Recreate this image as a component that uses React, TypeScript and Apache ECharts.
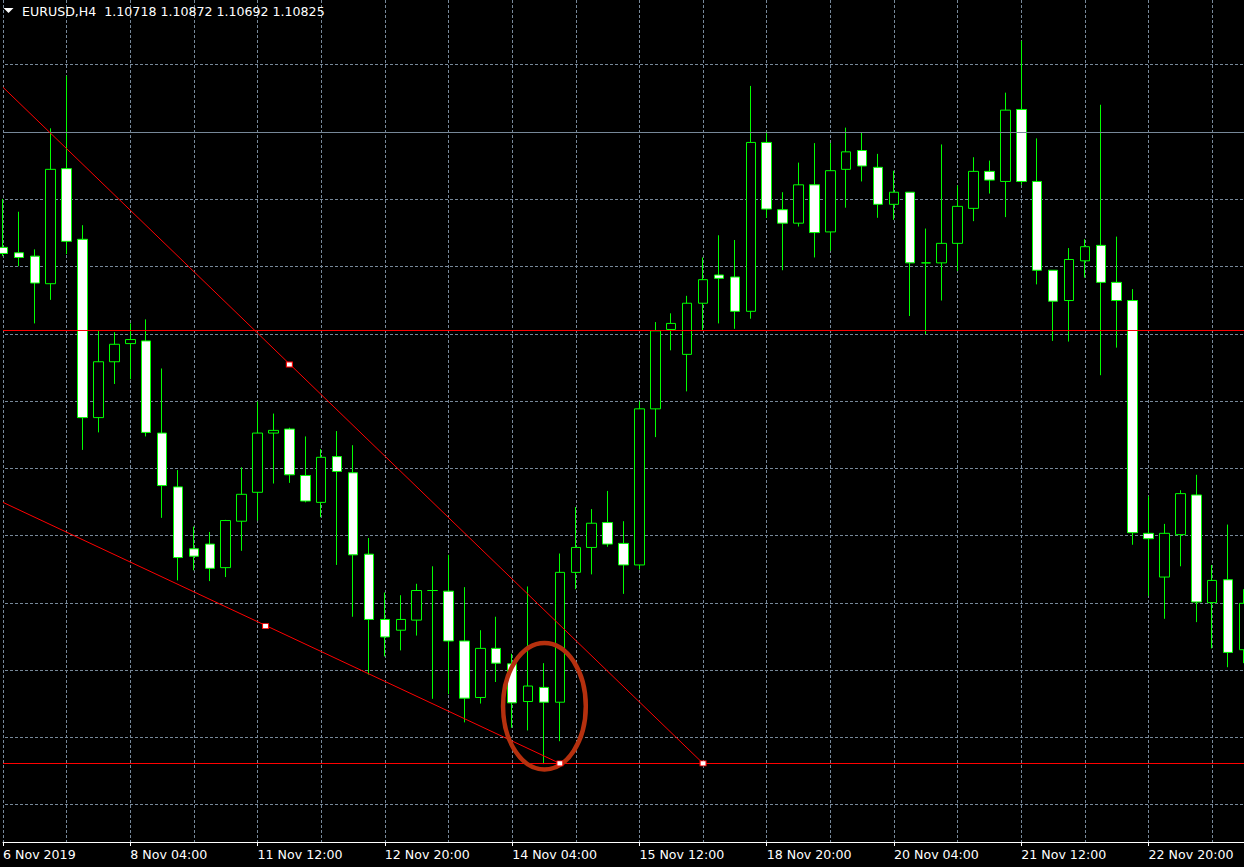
import React, { useEffect, useRef } from 'react';
import * as echarts from 'echarts';

// H4 bar times (x categories)
const categories = [
  '6 Nov 20:00',
  '7 Nov 00:00', '7 Nov 04:00', '7 Nov 08:00', '7 Nov 12:00', '7 Nov 16:00', '7 Nov 20:00',
  '8 Nov 00:00', '8 Nov 04:00', '8 Nov 08:00', '8 Nov 12:00', '8 Nov 16:00', '8 Nov 20:00',
  '11 Nov 00:00', '11 Nov 04:00', '11 Nov 08:00', '11 Nov 12:00', '11 Nov 16:00', '11 Nov 20:00',
  '12 Nov 00:00', '12 Nov 04:00', '12 Nov 08:00', '12 Nov 12:00', '12 Nov 16:00', '12 Nov 20:00',
  '13 Nov 00:00', '13 Nov 04:00', '13 Nov 08:00', '13 Nov 12:00', '13 Nov 16:00', '13 Nov 20:00',
  '14 Nov 00:00', '14 Nov 04:00', '14 Nov 08:00', '14 Nov 12:00', '14 Nov 16:00', '14 Nov 20:00',
  '15 Nov 00:00', '15 Nov 04:00', '15 Nov 08:00', '15 Nov 12:00', '15 Nov 16:00', '15 Nov 20:00',
  '18 Nov 00:00', '18 Nov 04:00', '18 Nov 08:00', '18 Nov 12:00', '18 Nov 16:00', '18 Nov 20:00',
  '19 Nov 00:00', '19 Nov 04:00', '19 Nov 08:00', '19 Nov 12:00', '19 Nov 16:00', '19 Nov 20:00',
  '20 Nov 00:00', '20 Nov 04:00', '20 Nov 08:00', '20 Nov 12:00', '20 Nov 16:00', '20 Nov 20:00',
  '21 Nov 00:00', '21 Nov 04:00', '21 Nov 08:00', '21 Nov 12:00', '21 Nov 16:00', '21 Nov 20:00',
  '22 Nov 00:00', '22 Nov 04:00', '22 Nov 08:00', '22 Nov 12:00', '22 Nov 16:00', '22 Nov 20:00',
  '25 Nov 00:00', '25 Nov 04:00', '25 Nov 08:00', '25 Nov 12:00', '25 Nov 16:00', '25 Nov 20:00',
];

// axis tick labels (every 8th bar)
const tickLabels = [
  '6 Nov 2019', '8 Nov 04:00', '11 Nov 12:00', '12 Nov 20:00', '14 Nov 04:00',
  '15 Nov 12:00', '18 Nov 20:00', '20 Nov 04:00', '21 Nov 12:00', '22 Nov 20:00',
];

const openP = [
  1.10628, 1.10620, 1.10615, 1.10574, 1.10745, 1.10640, 1.10375, 1.10458, 1.10485, 1.10489,
  1.10352, 1.10272, 1.10180, 1.10187, 1.10152, 1.10221, 1.10264, 1.10352, 1.10358, 1.10289,
  1.10249, 1.10317, 1.10293, 1.10172, 1.10075, 1.10059, 1.10074, 1.10118, 1.10117, 1.10043,
  1.09959, 1.10032, 1.10009, 1.09953, 1.09974, 1.09952, 1.10145, 1.10182, 1.10219, 1.10188,
  1.10156, 1.10388, 1.10506, 1.10469, 1.10545, 1.10587, 1.10584, 1.10533, 1.10784, 1.10684,
  1.10664, 1.10721, 1.10651, 1.10744, 1.10772, 1.10747, 1.10692, 1.10710, 1.10605, 1.10605,
  1.10634, 1.10686, 1.10741, 1.10726, 1.10833, 1.10726, 1.10594, 1.10549, 1.10608, 1.10631,
  1.10576, 1.10549, 1.10203, 1.10138, 1.10201, 1.10260, 1.10100, 1.10134, 1.10030,
];
const highP = [
  1.10700, 1.10681, 1.10625, 1.10805, 1.10883, 1.10661, 1.10504, 1.10502, 1.10515, 1.10521,
  1.10448, 1.10297, 1.10213, 1.10205, 1.10223, 1.10301, 1.10399, 1.10381, 1.10360, 1.10347,
  1.10328, 1.10355, 1.10334, 1.10196, 1.10115, 1.10111, 1.10128, 1.10154, 1.10171, 1.10123,
  1.10059, 1.10079, 1.10024, 1.10124, 1.10010, 1.10173, 1.10242, 1.10239, 1.10266, 1.10221,
  1.10399, 1.10517, 1.10530, 1.10556, 1.10613, 1.10646, 1.10639, 1.10868, 1.10800, 1.10710,
  1.10754, 1.10783, 1.10783, 1.10806, 1.10798, 1.10767, 1.10742, 1.10710, 1.10656, 1.10781,
  1.10720, 1.10762, 1.10757, 1.10858, 1.10935, 1.10790, 1.10594, 1.10627, 1.10640, 1.10840,
  1.10644, 1.10566, 1.10258, 1.10217, 1.10267, 1.10290, 1.10156, 1.10216, 1.10120,
];
const lowP = [
  1.10615, 1.10600, 1.10515, 1.10550, 1.10618, 1.10327, 1.10353, 1.10425, 1.10432, 1.10347,
  1.10226, 1.10133, 1.10148, 1.10132, 1.10138, 1.10177, 1.10222, 1.10277, 1.10278, 1.10249,
  1.10227, 1.10156, 1.10079, 1.09993, 1.10020, 1.10029, 1.10051, 1.09957, 1.09964, 1.09922,
  1.09950, 1.09982, 1.09914, 1.09910, 1.09860, 1.09894, 1.10120, 1.10142, 1.10183, 1.10113,
  1.10149, 1.10346, 1.10475, 1.10414, 1.10504, 1.10515, 1.10507, 1.10522, 1.10672, 1.10594,
  1.10659, 1.10613, 1.10623, 1.10687, 1.10726, 1.10672, 1.10669, 1.10526, 1.10499, 1.10549,
  1.10593, 1.10667, 1.10708, 1.10673, 1.10721, 1.10573, 1.10489, 1.10488, 1.10583, 1.10438,
  1.10479, 1.10186, 1.10110, 1.10076, 1.10154, 1.10071, 1.10032, 1.10004, 1.10010,
];
const closeP = [
  1.10619, 1.10613, 1.10575, 1.10744, 1.10637, 1.10375, 1.10458, 1.10484, 1.10491, 1.10353,
  1.10274, 1.10167, 1.10169, 1.10151, 1.10222, 1.10261, 1.10352, 1.10356, 1.10290, 1.10251,
  1.10316, 1.10295, 1.10171, 1.10075, 1.10049, 1.10075, 1.10118, 1.10118, 1.10043, 1.09958,
  1.10032, 1.10010, 1.09951, 1.09976, 1.09952, 1.10145, 1.10182, 1.10218, 1.10187, 1.10156,
  1.10388, 1.10504, 1.10515, 1.10545, 1.10580, 1.10582, 1.10533, 1.10784, 1.10685, 1.10664,
  1.10721, 1.10650, 1.10742, 1.10770, 1.10749, 1.10692, 1.10710, 1.10605, 1.10605, 1.10634,
  1.10689, 1.10741, 1.10728, 1.10832, 1.10726, 1.10594, 1.10548, 1.10610, 1.10629, 1.10576,
  1.10549, 1.10204, 1.10195, 1.10203, 1.10262, 1.10101, 1.10133, 1.10026, 1.10099,
];

// price grid levels
const gridLevels = [1.1090, 1.1080, 1.1070, 1.1060, 1.1050, 1.1040, 1.1030, 1.1020, 1.1010, 1.1000, 1.0990, 1.0980];

// drawn objects
const grayLevel = [1.10799];
const redLevels = [1.10505, 1.09861];
const upperTrend = [[0, 1.10866], [44, 1.09861]];
const lowerTrend = [[0, 1.10249], [35, 1.09861]];
const anchors = [[18, 1.10454], [44, 1.09861], [16.5, 1.10065], [35, 1.09861]];
const ellipseMark = [[34.03, 1.09946, 2.6, 0.00094]];

const headerSymbol = 'EURUSD,H4';
const headerOHLC = [1.10718, 1.10872, 1.10692, 1.10825];

const FONT = '"DejaVu Sans", Verdana, sans-serif';
const GRID_COLOR = '#778899';

function hLineSeries(levels: number[], color: string, dash: number[] | null, width: number, z: number) {
  return {
    type: 'custom',
    xAxisIndex: 1,
    yAxisIndex: 0,
    silent: true,
    z,
    clip: true,
    data: levels.map((p) => [0, p]),
    renderItem: (params: any, api: any) => {
      const cs = params.coordSys;
      const y = Math.round(api.coord([0, api.value(1)])[1]) + 0.5;
      return {
        type: 'line',
        shape: { x1: 0, y1: y, x2: cs.x + cs.width, y2: y },
        style: { stroke: color, lineWidth: width, lineDash: dash || undefined, fill: null },
      };
    },
  };
}

export default function App() {
  const ref = useRef<HTMLDivElement>(null);
  useEffect(() => {
    document.body.style.margin = '0';
    document.body.style.background = '#000';
    const chart = echarts.init(ref.current!, null, { renderer: 'svg' });
    const xMax = categories.length - 1;
    const candleData = categories.map((_, i) => [openP[i], closeP[i], lowP[i], highP[i]]);

    const option: any = {
      animation: false,
      backgroundColor: '#000000',
      grid: { left: 0.5, top: 0, width: 1248, height: 842, containLabel: false },
      xAxis: [
        {
          type: 'category',
          data: categories,
          boundaryGap: false,
          axisLine: { show: true, lineStyle: { color: '#ffffff', width: 1 } },
          axisTick: { show: true, interval: 7, length: 4, lineStyle: { color: '#ffffff' } },
          axisLabel: {
            show: true,
            interval: 7,
            align: 'left',
            margin: 6,
            color: '#ffffff',
            fontFamily: FONT,
            fontSize: 12.6,
            formatter: (v: string, idx: number) => (idx % 8 === 0 ? tickLabels[idx / 8] ?? v : v),
          },
          splitLine: { show: true, interval: 3, lineStyle: { color: GRID_COLOR, type: [3, 2], width: 1 } },
        },
        { type: 'value', min: 0, max: xMax, show: false },
      ],
      yAxis: {
        type: 'value',
        min: 1.097442,
        max: 1.109957,
        show: false,
        splitLine: { show: false },
      },
      series: [
        hLineSeries(gridLevels, GRID_COLOR, [3, 2], 1, 1),
        {
          type: 'candlestick',
          xAxisIndex: 0,
          yAxisIndex: 0,
          data: candleData,
          barWidth: 10,
          z: 2,
          silent: true,
          itemStyle: {
            color: '#000000',
            color0: '#ffffff',
            borderColor: '#00ff00',
            borderColor0: '#00ff00',
            borderColorDoji: '#00ff00',
            borderWidth: 1,
          },
        },
        hLineSeries(grayLevel, GRID_COLOR, null, 1, 3),
        hLineSeries(redLevels, '#ff0000', null, 1, 3),
        {
          type: 'line',
          xAxisIndex: 1,
          data: upperTrend,
          symbol: 'none',
          silent: true,
          z: 3,
          lineStyle: { color: '#ff0000', width: 1 },
        },
        {
          type: 'line',
          xAxisIndex: 1,
          data: lowerTrend,
          symbol: 'none',
          silent: true,
          z: 3,
          lineStyle: { color: '#ff0000', width: 1 },
        },
        {
          type: 'custom',
          xAxisIndex: 1,
          silent: true,
          z: 4,
          data: ellipseMark,
          renderItem: (params: any, api: any) => {
            const c = api.coord([api.value(0), api.value(1)]);
            const s = api.size([api.value(2), api.value(3)]);
            return {
              type: 'ellipse',
              shape: { cx: c[0], cy: c[1], rx: s[0], ry: s[1] },
              style: { fill: null, stroke: '#b5300e', lineWidth: 4.5 },
            };
          },
        },
        {
          type: 'scatter',
          xAxisIndex: 1,
          data: anchors,
          symbol: 'rect',
          symbolSize: [6, 5],
          silent: true,
          z: 5,
          itemStyle: { color: '#ffffff', borderColor: '#ff0000', borderWidth: 1, opacity: 1 },
        },
      ],
      graphic: [
        {
          type: 'polygon',
          shape: { points: [[3.5, 8], [13.5, 8], [8.5, 13]] },
          style: { fill: '#ffffff' },
          z: 10,
        },
        {
          type: 'text',
          x: 22,
          y: 11.5,
          z: 10,
          style: {
            text: headerSymbol + '  ' + headerOHLC.map((v) => v.toFixed(5)).join(' '),
            fill: '#ffffff',
            font: '12.6px ' + FONT,
            verticalAlign: 'middle',
            align: 'left',
          },
        },
      ],
    };
    chart.setOption(option);
    return () => chart.dispose();
  }, []);
  return (
    <div
      ref={ref}
      style={{ position: 'fixed', left: 0, top: 0, width: 1244, height: 867, background: '#000' }}
    />
  );
}
